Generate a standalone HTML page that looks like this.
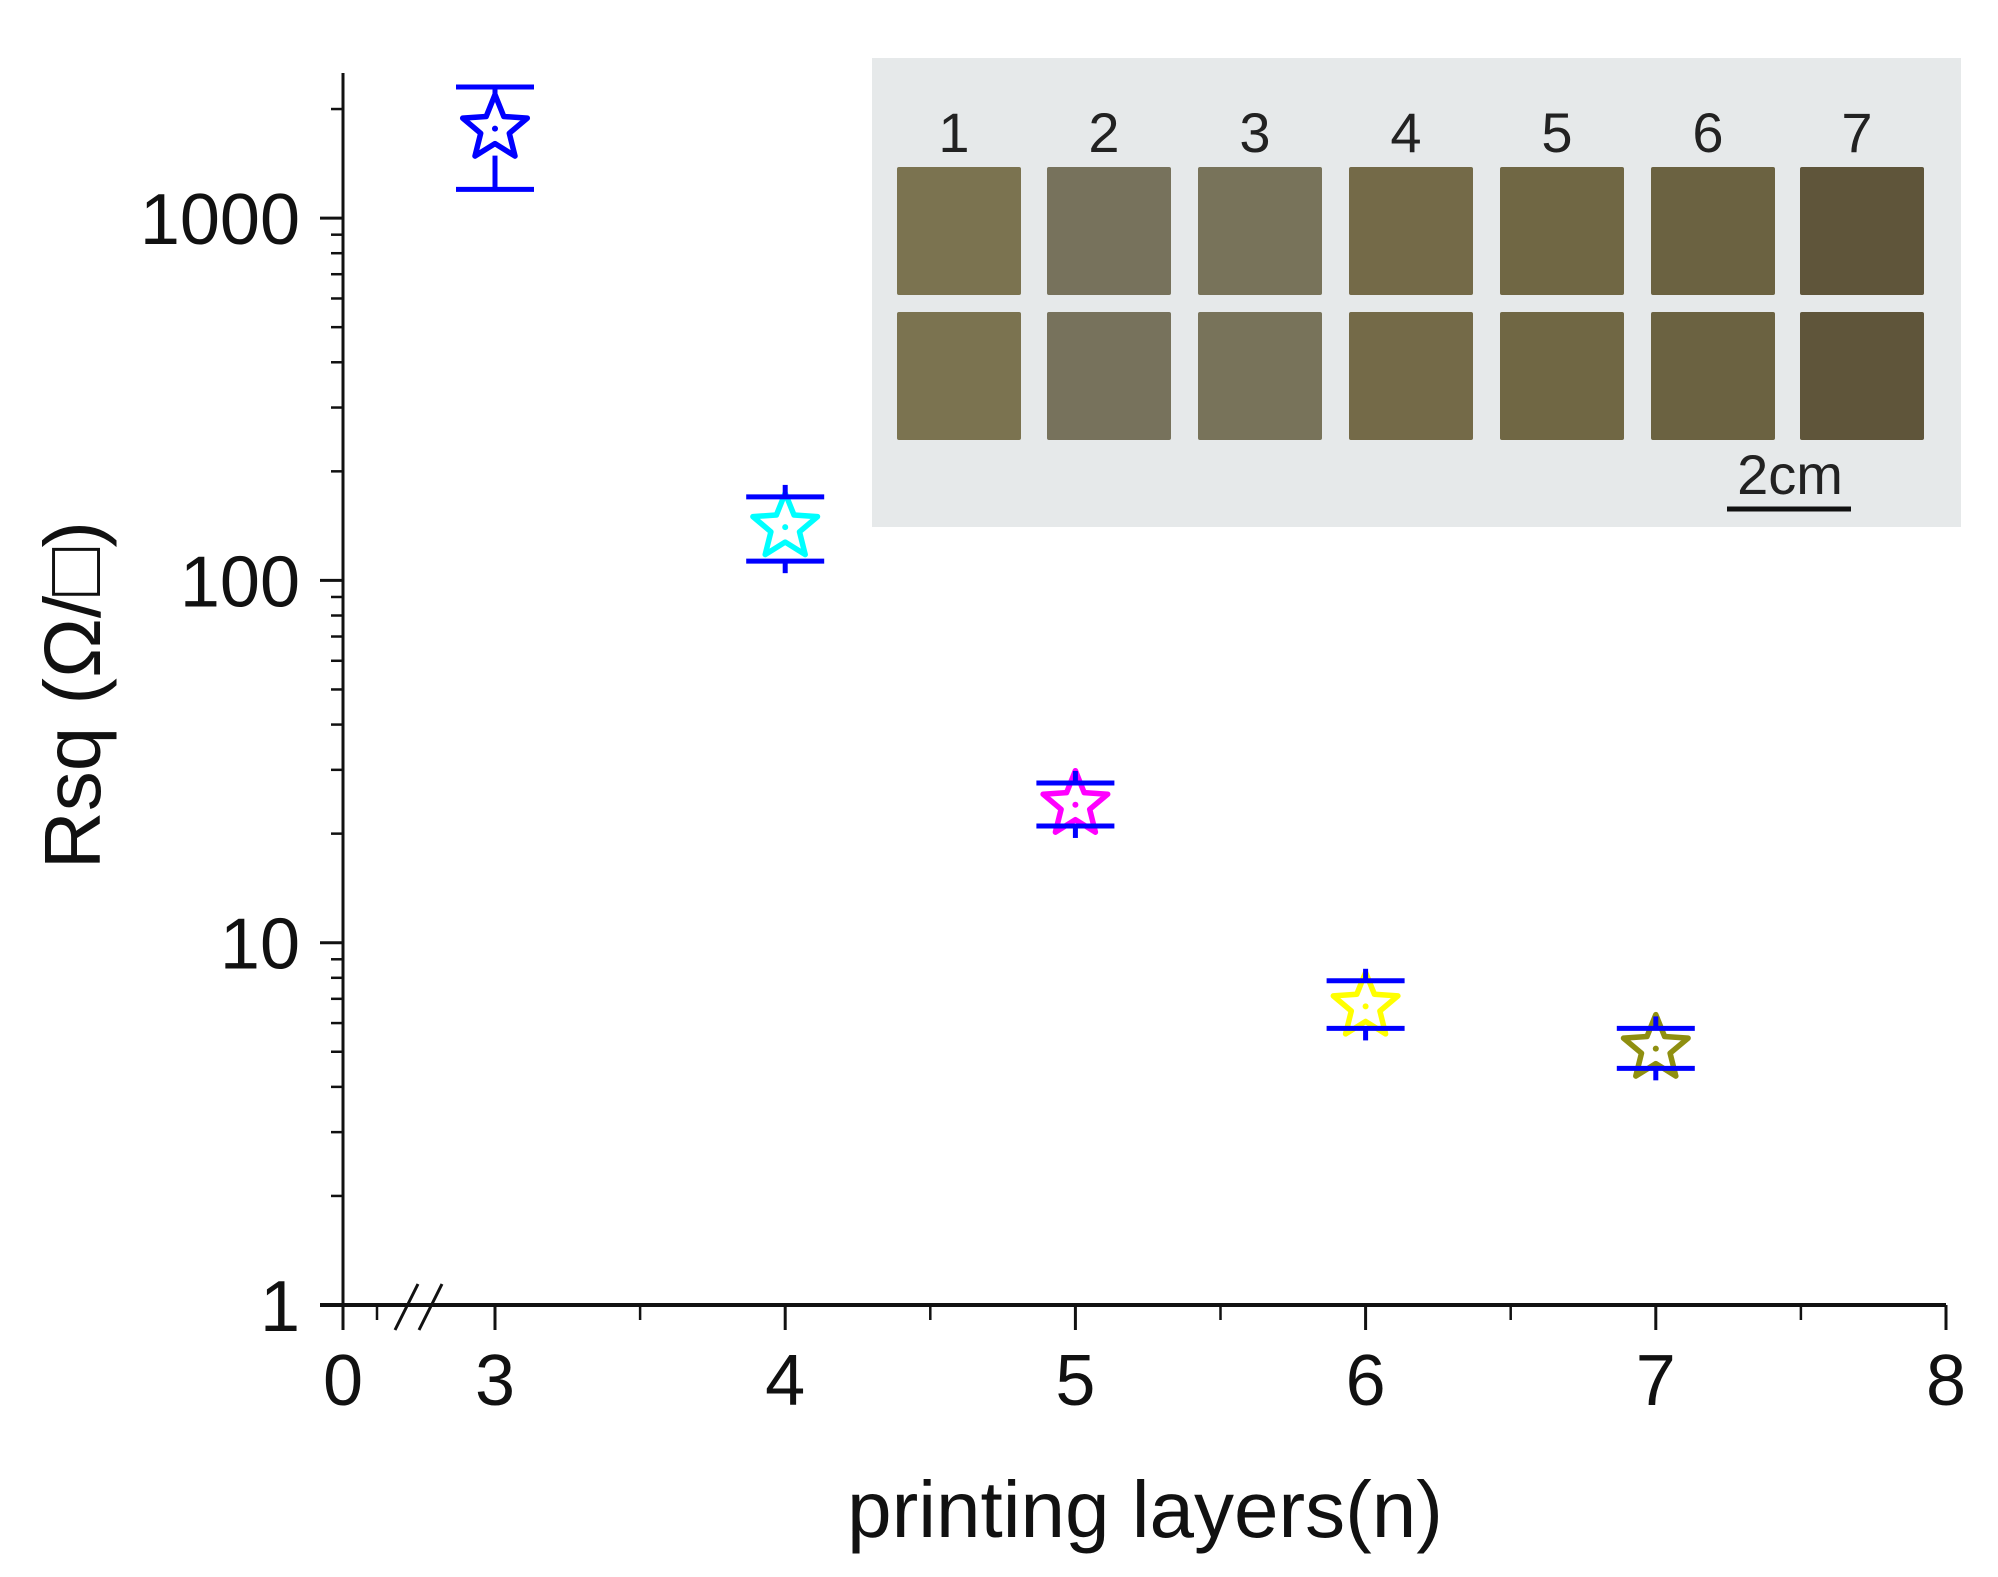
<!DOCTYPE html>
<html><head><meta charset="utf-8"><style>
html,body{margin:0;padding:0;background:#fff;}
svg{display:block;font-family:"Liberation Sans",sans-serif;}
</style></head><body>
<svg id="chart" width="1998" height="1577" viewBox="0 0 1998 1577">
<g id="inset">
  <rect x="872" y="58" width="1089" height="469" fill="#e6e9ea"/>
</g>
<g id="axes"></g>
<g id="marks"></g>
<text x="1145" y="1537" font-size="80" text-anchor="middle" fill="#111">printing layers(n)</text>
<text transform="translate(100,695) rotate(-90)" font-size="80" text-anchor="middle" fill="#111">Rsq (Ω/□)</text>
</svg>
<script>
const layers = [3, 4, 5, 6, 7];
const rsq = [1800, 143, 24.5, 6.8, 5.2];
const errHigh = [2300, 170, 27.6, 7.85, 5.8];
const errLow = [1200, 113, 21, 5.8, 4.5];
const starColors = ['#0000ff', '#00ffff', '#ff00ff', '#ffff00', '#8f8f10'];
const xTickLabels = ['0', '3', '4', '5', '6', '7', '8'];
const xTickValues = [0, 3, 4, 5, 6, 7, 8];
const yTickValues = [1, 10, 100, 1000];
const sampleNumbers = ['1', '2', '3', '4', '5', '6', '7'];
const sampleColors = ['#7b7350', '#77725c', '#78735a', '#746a48', '#706744', '#6b6241', '#5f553a'];

const NS = 'http://www.w3.org/2000/svg';
function el(tag, attrs, parent) {
  const e = document.createElementNS(NS, tag);
  for (const k in attrs) e.setAttribute(k, attrs[k]);
  parent.appendChild(e);
  return e;
}
function xs(n) { return n === 0 ? 343 : 495 + (n - 3) * 290.2; }
function ys(v) { return 1305 - Math.log10(v) * 362.3; }

const axes = document.getElementById('axes');
const marks = document.getElementById('marks');
const black = '#111';

const yl = el('line', {x1: 343, y1: 73, x2: 343, y2: 1305, stroke: black, 'stroke-width': 3}, axes);


const xl = el('line', {x1: 320, y1: 1305, x2: 1946, y2: 1305, stroke: black, 'stroke-width': 4}, axes);



yTickValues.forEach(v => {
  const y = ys(v);
  const t = el('line', {x1: 320, y1: y, x2: 343, y2: y, stroke: black, 'stroke-width': 3}, axes);
  
  
  const lb = el('text', {x: 300, y: y + 26, 'font-size': 72, 'text-anchor': 'end', fill: black}, axes);
  lb.textContent = String(v);
  
  
});
for (let d = 0; d < 4; d++) {
  for (let m = 2; m <= 9; m++) {
    const v = Math.pow(10, d) * m;
    if (ys(v) < 73) continue;
    const t = el('line', {x1: 331, y1: ys(v), x2: 343, y2: ys(v), stroke: black, 'stroke-width': 2.5}, axes);
    
    
  }
}
xTickValues.forEach((v, i) => {
  const x = xs(v);
  const t = el('line', {x1: x, y1: 1305, x2: x, y2: 1330, stroke: black, 'stroke-width': 3}, axes);
  
  
  const lb = el('text', {x: x, y: 1405, 'font-size': 72, 'text-anchor': 'middle', fill: black}, axes);
  lb.textContent = xTickLabels[i];
  
  
});
[3.5, 4.5, 5.5, 6.5, 7.5].forEach(v => {
  const t = el('line', {x1: xs(v), y1: 1305, x2: xs(v), y2: 1320, stroke: black, 'stroke-width': 2.5}, axes);
  
  
});
const mt = el('line', {x1: 377, y1: 1305, x2: 377, y2: 1320, stroke: black, 'stroke-width': 2.5}, axes);


[0, 24].forEach(dx => {
  const b = el('line', {x1: 395 + dx, y1: 1330, x2: 418 + dx, y2: 1284, stroke: black, 'stroke-width': 3}, axes);
  
  
});

function starPath(cx, cy, R, r) {
  let d = '';
  for (let i = 0; i < 10; i++) {
    const a = -Math.PI / 2 + i * Math.PI / 5;
    const rr = i % 2 ? r : R;
    d += (i ? 'L' : 'M') + (cx + rr * Math.cos(a)).toFixed(1) + ' ' + (cy + rr * Math.sin(a)).toFixed(1);
  }
  return d + 'Z';
}
layers.forEach((n, i) => {
  const x = xs(n), y = ys(rsq[i]);
  const s = el('path', {d: starPath(x, y + 3, 34, 15), fill: 'none', stroke: starColors[i], 'stroke-width': 5.5, 'stroke-linejoin': 'round'}, marks);
  
  
  const c = el('circle', {cx: x, cy: y + 3, r: 3, fill: starColors[i]}, marks);
  
  
  const yh = ys(errHigh[i]), ylo = ys(errLow[i]);
  const g = el('g', {stroke: '#0000ff', 'stroke-width': 5}, marks);
  
  
  if (i === 0) {
    el('line', {x1: x, y1: yh, x2: x, y2: y - 32}, g);
    el('line', {x1: x, y1: y + 30, x2: x, y2: ylo}, g);
  } else {
    el('line', {x1: x, y1: yh - 12, x2: x, y2: yh}, g);
    el('line', {x1: x, y1: ylo, x2: x, y2: ylo + 12}, g);
  }
  el('line', {x1: x - 39, y1: yh, x2: x + 39, y2: yh}, g);
  el('line', {x1: x - 39, y1: ylo, x2: x + 39, y2: ylo}, g);
});

const inset = document.getElementById('inset');
const colX = [897, 1047, 1198, 1349, 1500, 1651, 1800];
sampleNumbers.forEach((lab, i) => {
  const t = el('text', {x: colX[i] + 57, y: 152, 'font-size': 56, 'text-anchor': 'middle', fill: '#222'}, inset);
  t.textContent = lab;
  
  
  [167, 312].forEach(y => {
    const r = el('rect', {x: colX[i], y: y, width: 124, height: 128, fill: sampleColors[i], rx: 2}, inset);
    
    
  });
});
const sb = el('text', {x: 1790, y: 494, 'font-size': 56, 'text-anchor': 'middle', fill: '#222'}, inset);
sb.textContent = '2cm';


const sl = el('line', {x1: 1727, y1: 509, x2: 1851, y2: 509, stroke: '#111', 'stroke-width': 5}, inset);


</script>
</body></html>
